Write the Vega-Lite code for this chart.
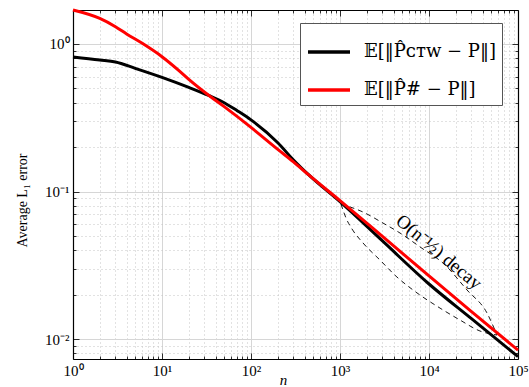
{
  "$schema": "https://vega.github.io/schema/vega-lite/v6.json",
  "width": 445,
  "height": 349,
  "autosize": {"type": "none"},
  "padding": {"left": 73, "top": 10, "right": 11, "bottom": 28},
  "background": "white",
  "config": {
    "view": {"stroke": null},
    "font": "Liberation Serif"
  },
  "datasets": {
    "lines": [
      {"n": 1, "err": 0.816, "estimator": "𝔼[‖P̂ᴄᴛᴡ − P‖]"},
      {"n": 2, "err": 0.779, "estimator": "𝔼[‖P̂ᴄᴛᴡ − P‖]"},
      {"n": 3, "err": 0.755, "estimator": "𝔼[‖P̂ᴄᴛᴡ − P‖]"},
      {"n": 5, "err": 0.684, "estimator": "𝔼[‖P̂ᴄᴛᴡ − P‖]"},
      {"n": 10, "err": 0.594, "estimator": "𝔼[‖P̂ᴄᴛᴡ − P‖]"},
      {"n": 20, "err": 0.508, "estimator": "𝔼[‖P̂ᴄᴛᴡ − P‖]"},
      {"n": 34, "err": 0.446, "estimator": "𝔼[‖P̂ᴄᴛᴡ − P‖]"},
      {"n": 50, "err": 0.400, "estimator": "𝔼[‖P̂ᴄᴛᴡ − P‖]"},
      {"n": 70, "err": 0.353, "estimator": "𝔼[‖P̂ᴄᴛᴡ − P‖]"},
      {"n": 100, "err": 0.306, "estimator": "𝔼[‖P̂ᴄᴛᴡ − P‖]"},
      {"n": 200, "err": 0.214, "estimator": "𝔼[‖P̂ᴄᴛᴡ − P‖]"},
      {"n": 300, "err": 0.1636, "estimator": "𝔼[‖P̂ᴄᴛᴡ − P‖]"},
      {"n": 449, "err": 0.129, "estimator": "𝔼[‖P̂ᴄᴛᴡ − P‖]"},
      {"n": 1000, "err": 0.0853, "estimator": "𝔼[‖P̂ᴄᴛᴡ − P‖]"},
      {"n": 3000, "err": 0.0462, "estimator": "𝔼[‖P̂ᴄᴛᴡ − P‖]"},
      {"n": 10000, "err": 0.0236, "estimator": "𝔼[‖P̂ᴄᴛᴡ − P‖]"},
      {"n": 30000, "err": 0.01373, "estimator": "𝔼[‖P̂ᴄᴛᴡ − P‖]"},
      {"n": 100000, "err": 0.0076, "estimator": "𝔼[‖P̂ᴄᴛᴡ − P‖]"},
      {"n": 1, "err": 1.70, "estimator": "𝔼[‖P̂# − P‖]"},
      {"n": 2, "err": 1.49, "estimator": "𝔼[‖P̂# − P‖]"},
      {"n": 3, "err": 1.31, "estimator": "𝔼[‖P̂# − P‖]"},
      {"n": 4, "err": 1.17, "estimator": "𝔼[‖P̂# − P‖]"},
      {"n": 6, "err": 1.01, "estimator": "𝔼[‖P̂# − P‖]"},
      {"n": 10, "err": 0.82, "estimator": "𝔼[‖P̂# − P‖]"},
      {"n": 15.5, "err": 0.66, "estimator": "𝔼[‖P̂# − P‖]"},
      {"n": 20, "err": 0.576, "estimator": "𝔼[‖P̂# − P‖]"},
      {"n": 34, "err": 0.446, "estimator": "𝔼[‖P̂# − P‖]"},
      {"n": 50, "err": 0.376, "estimator": "𝔼[‖P̂# − P‖]"},
      {"n": 100, "err": 0.272, "estimator": "𝔼[‖P̂# − P‖]"},
      {"n": 200, "err": 0.193, "estimator": "𝔼[‖P̂# − P‖]"},
      {"n": 300, "err": 0.159, "estimator": "𝔼[‖P̂# − P‖]"},
      {"n": 449, "err": 0.129, "estimator": "𝔼[‖P̂# − P‖]"},
      {"n": 1000, "err": 0.0867, "estimator": "𝔼[‖P̂# − P‖]"},
      {"n": 3000, "err": 0.0496, "estimator": "𝔼[‖P̂# − P‖]"},
      {"n": 10000, "err": 0.0268, "estimator": "𝔼[‖P̂# − P‖]"},
      {"n": 30000, "err": 0.01534, "estimator": "𝔼[‖P̂# − P‖]"},
      {"n": 100000, "err": 0.0084, "estimator": "𝔼[‖P̂# − P‖]"}
    ],
    "curves": [
      {"n": 1026, "err": 0.0822, "curve": "upper"},
      {"n": 1812, "err": 0.0726, "curve": "upper"},
      {"n": 3041, "err": 0.0611, "curve": "upper"},
      {"n": 4723, "err": 0.0523, "curve": "upper"},
      {"n": 7924, "err": 0.0421, "curve": "upper"},
      {"n": 15130, "err": 0.0318, "curve": "upper"},
      {"n": 26730, "err": 0.0215, "curve": "upper"},
      {"n": 44850, "err": 0.0150, "curve": "upper"},
      {"n": 58080, "err": 0.01064, "curve": "upper"},
      {"n": 1026, "err": 0.0822, "curve": "lower"},
      {"n": 1168, "err": 0.0661, "curve": "lower"},
      {"n": 1364, "err": 0.0557, "curve": "lower"},
      {"n": 1812, "err": 0.0448, "curve": "lower"},
      {"n": 2814, "err": 0.0343, "curve": "lower"},
      {"n": 4368, "err": 0.0263, "curve": "lower"},
      {"n": 6610, "err": 0.0215, "curve": "lower"},
      {"n": 13300, "err": 0.0162, "curve": "lower"},
      {"n": 22300, "err": 0.01345, "curve": "lower"},
      {"n": 37400, "err": 0.01133, "curve": "lower"},
      {"n": 58080, "err": 0.01064, "curve": "lower"}
    ],
    "notes": [
      {"n": 12950, "err": 0.0389, "label": "O(n⁻½) decay"}
    ]
  },
  "layer": [
    {
      "data": {"name": "curves"},
      "mark": {"type": "line", "strokeDash": [5, 4], "strokeWidth": 0.9, "color": "black", "interpolate": "monotone"},
      "encoding": {
        "x": {
          "field": "n", "type": "quantitative",
          "scale": {"type": "log", "domain": [1, 100000], "nice": false},
          "axis": {
            "orient": "top", "labels": false, "grid": false, "title": null,
            "values": [1,2,3,4,5,6,7,8,9,10,20,30,40,50,60,70,80,90,100,200,300,400,500,600,700,800,900,1000,2000,3000,4000,5000,6000,7000,8000,9000,10000,20000,30000,40000,50000,60000,70000,80000,90000,100000],
            "tickSize": {"condition": {"test": "abs(log(datum.value)/LN10 - round(log(datum.value)/LN10)) < 0.001", "value": -6}, "value": -3},
            "tickColor": "black", "tickWidth": 0.8,
            "domainColor": "black", "domainWidth": 1.2
          }
        },
        "y": {
          "field": "err", "type": "quantitative",
          "scale": {"type": "log", "domain": [0.00732, 1.70], "nice": false},
          "axis": {
            "orient": "right", "labels": false, "grid": false, "title": null,
            "values": [0.008,0.009,0.01,0.02,0.03,0.04,0.05,0.06,0.07,0.08,0.09,0.1,0.2,0.3,0.4,0.5,0.6,0.7,0.8,0.9,1],
            "tickSize": {"condition": {"test": "abs(log(datum.value)/LN10 - round(log(datum.value)/LN10)) < 0.001", "value": -6}, "value": -3},
            "tickColor": "black", "tickWidth": 0.8,
            "domainColor": "black", "domainWidth": 1.2
          }
        },
        "detail": {"field": "curve", "type": "nominal"}
      }
    },
    {
      "data": {"name": "lines"},
      "mark": {"type": "line", "strokeWidth": 3, "interpolate": "monotone"},
      "encoding": {
        "x": {
          "field": "n", "type": "quantitative",
          "scale": {"type": "log", "domain": [1, 100000], "nice": false},
          "axis": {
            "orient": "bottom",
            "values": [1,2,3,4,5,6,7,8,9,10,20,30,40,50,60,70,80,90,100,200,300,400,500,600,700,800,900,1000,2000,3000,4000,5000,6000,7000,8000,9000,10000,20000,30000,40000,50000,60000,70000,80000,90000,100000],
            "labelExpr": "abs(log(datum.value)/LN10 - round(log(datum.value)/LN10)) < 0.001 ? '10' + ['⁰','¹','²','³','⁴','⁵'][round(log(datum.value)/LN10)] : ''",
            "labelOverlap": false, "labelFlush": false,
            "labelFont": "Liberation Serif", "labelFontSize": 15, "labelColor": "black", "labelPadding": 10,
            "tickSize": {"condition": {"test": "abs(log(datum.value)/LN10 - round(log(datum.value)/LN10)) < 0.001", "value": -6}, "value": -3},
            "tickColor": "black", "tickWidth": 0.8,
            "grid": true,
            "gridColor": {"condition": {"test": "abs(log(datum.value)/LN10 - round(log(datum.value)/LN10)) < 0.001", "value": "#d6d6d6"}, "value": "#c4c4c4"},
            "gridDash": {"condition": {"test": "abs(log(datum.value)/LN10 - round(log(datum.value)/LN10)) < 0.001", "value": []}, "value": [1, 3]},
            "gridWidth": 1,
            "domainColor": "black", "domainWidth": 1.2,
            "title": "n", "titleFont": "Liberation Serif", "titleFontStyle": "italic", "titleFontWeight": "normal", "titleFontSize": 15, "titleColor": "black",
            "titleX": 210, "titleY": 20, "titleBaseline": "middle", "titleAlign": "center"
          }
        },
        "y": {
          "field": "err", "type": "quantitative",
          "scale": {"type": "log", "domain": [0.00732, 1.70], "nice": false},
          "axis": {
            "orient": "left",
            "values": [0.008,0.009,0.01,0.02,0.03,0.04,0.05,0.06,0.07,0.08,0.09,0.1,0.2,0.3,0.4,0.5,0.6,0.7,0.8,0.9,1],
            "labelExpr": "abs(log(datum.value)/LN10 - round(log(datum.value)/LN10)) < 0.001 ? '10' + ['⁰','⁻¹','⁻²'][-round(log(datum.value)/LN10)] : ''",
            "labelOverlap": false, "labelFlush": false,
            "labelFont": "Liberation Serif", "labelFontSize": 15, "labelColor": "black", "labelPadding": 10,
            "tickSize": {"condition": {"test": "abs(log(datum.value)/LN10 - round(log(datum.value)/LN10)) < 0.001", "value": -6}, "value": -3},
            "tickColor": "black", "tickWidth": 0.8,
            "grid": true,
            "gridColor": {"condition": {"test": "abs(log(datum.value)/LN10 - round(log(datum.value)/LN10)) < 0.001", "value": "#d6d6d6"}, "value": "#c4c4c4"},
            "gridDash": {"condition": {"test": "abs(log(datum.value)/LN10 - round(log(datum.value)/LN10)) < 0.001", "value": []}, "value": [1, 3]},
            "gridWidth": 1,
            "domainColor": "black", "domainWidth": 1.2,
            "title": "Average L₁ error", "titleFont": "Liberation Serif", "titleFontWeight": "normal", "titleFontSize": 14, "titleColor": "black",
            "titleAngle": -90, "titleX": -51, "titleY": 190, "titleBaseline": "middle", "titleAlign": "center"
          }
        },
        "color": {
          "field": "estimator", "type": "nominal",
          "scale": {"domain": ["𝔼[‖P̂ᴄᴛᴡ − P‖]", "𝔼[‖P̂# − P‖]"], "range": ["#000000", "#ff0000"]},
          "legend": {
            "orient": "none", "legendX": 227, "legendY": 13, "title": null,
            "fillColor": "white", "strokeColor": "#555555", "padding": 6,
            "symbolType": "stroke", "symbolSize": 1764, "symbolStrokeWidth": 3.5,
            "labelFont": "DejaVu Serif, DejaVu Sans", "labelFontSize": 18, "labelColor": "black",
            "labelOffset": 12, "rowPadding": 6, "labelLimit": 0, "titlePadding": 0
          }
        }
      }
    },
    {
      "data": {"name": "notes"},
      "mark": {"type": "text", "angle": 40, "align": "center", "baseline": "middle", "font": "Liberation Serif", "fontSize": 19, "color": "black"},
      "encoding": {
        "x": {"field": "n", "type": "quantitative", "scale": {"type": "log", "domain": [1, 100000], "nice": false}, "axis": null},
        "y": {"field": "err", "type": "quantitative", "scale": {"type": "log", "domain": [0.00732, 1.70], "nice": false}, "axis": null},
        "text": {"field": "label"}
      }
    }
  ],
  "resolve": {"axis": {"x": "independent", "y": "independent"}}
}
